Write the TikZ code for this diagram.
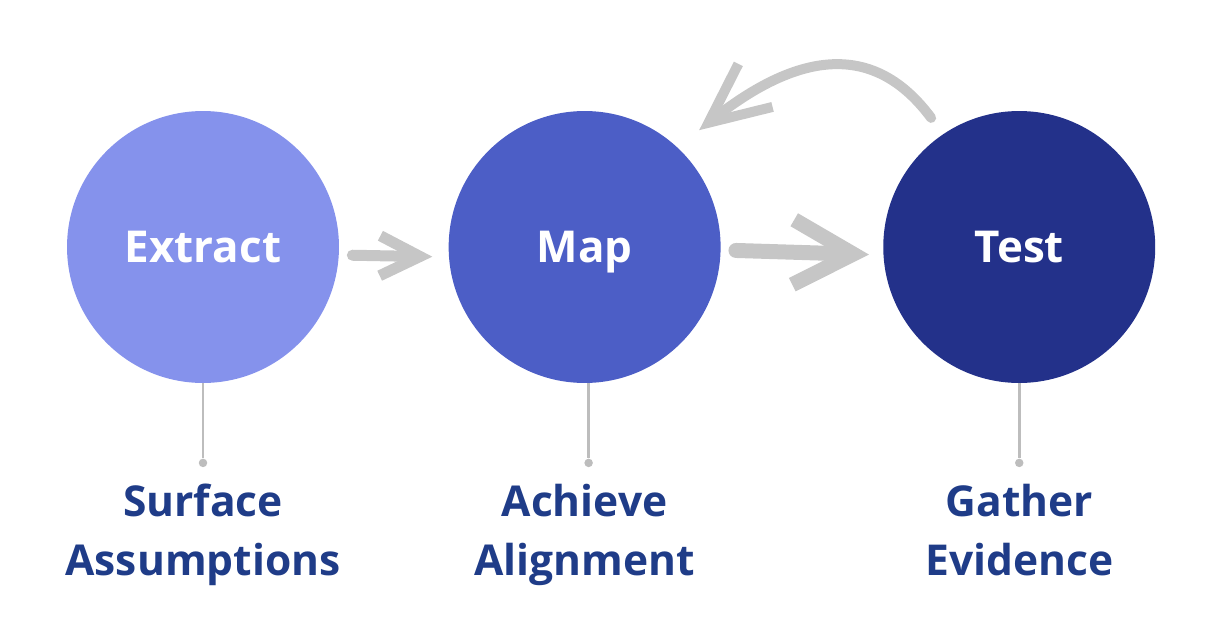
\documentclass[tikz,border=0pt]{standalone}
\usepackage{fontspec}
\setmainfont{Open Sans}
\usepackage{xcolor}
\usepackage{tikz}
\usetikzlibrary{arrows.meta, positioning}

\definecolor{lightblue}{HTML}{8592EC}
\definecolor{midblue}{HTML}{4C5EC6}
\definecolor{darkblue}{HTML}{23318A}
\definecolor{navytext}{HTML}{1F3C88}
\definecolor{arrowgray}{HTML}{C6C6C6}
\definecolor{stemgray}{HTML}{BDBDBD}

\begin{document}
\begin{tikzpicture}[
    x=0.02cm, y=-0.02cm,
    stage/.style={circle, minimum size=5.44cm, inner sep=0pt, text=white, text height=0.64cm, text depth=0pt, font=\bfseries\fontsize{25}{28}\selectfont},
    goal/.style={align=center, text=navytext, font=\bfseries\fontsize{24.2}{34}\selectfont},
    dot/.style={circle, fill=stemgray, minimum size=0.17cm, inner sep=0pt},
    stem/.style={draw=stemgray, line width=0.05cm},
    arr/.style={draw=arrowgray, line cap=round, line join=round}
]
\useasboundingbox (0,0) rectangle (1206,642);

\node[stage, fill=lightblue] (extract) at (203,247) {Extract};
\node[stage, fill=midblue, right=2.18cm of extract] (map) {Map};
\node[stage, fill=darkblue, right=3.24cm of map] (test) {Test};

\node[dot, below=1.5cm of extract] (dotA) {};
\node[dot, below=1.5cm of map, xshift=0.08cm] (dotB) {};
\node[dot, below=1.5cm of test] (dotC) {};
\draw[stem] (extract) -- (dotA);
\draw[stem] (map.south -| dotB) -- (dotB);
\draw[stem] (test) -- (dotC);

\node[goal, below=0.2cm of dotA] (surface) {Surface\\Assumptions};
\node[goal, below=0.2cm of dotB, xshift=-0.08cm] (align) {Achieve\\Alignment};
\node[goal, below=0.2cm of dotC] (evidence) {Gather\\Evidence};

% forward steps
\draw[arr, line width=0.22cm, -{Straight Barb[length=0.8cm, width=0.8cm]}, shorten <=0.26cm, shorten >=0.32cm]
    ([yshift=-0.16cm]extract.east) -- ([yshift=-0.2cm]map.west);
\draw[arr, line width=0.3cm, -{Straight Barb[length=1.2cm, width=1.3cm]}, shorten <=0.3cm, shorten >=0.28cm]
    ([yshift=-0.06cm]map.east) -- ([yshift=-0.16cm]test.west);
% loop back
\draw[arr, line width=0.2cm, -{Straight Barb[length=1.2cm, width=1.1cm]}, shorten <=0.4cm, shorten >=0.55cm]
    (test.124) .. controls (875,42) and (800,50) .. (map.47);
\end{tikzpicture}
\end{document}
